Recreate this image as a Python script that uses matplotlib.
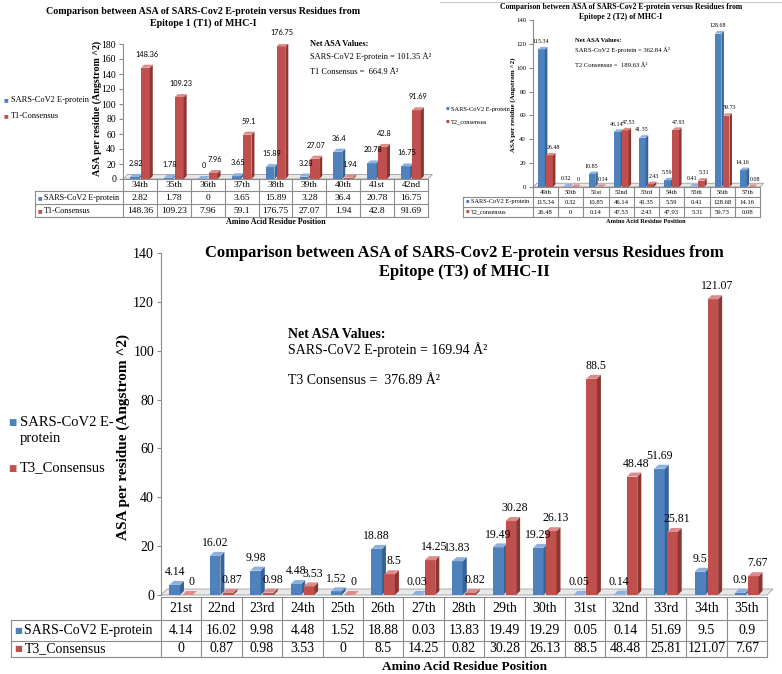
import numpy as np
import matplotlib.pyplot as plt
from matplotlib.patches import Polygon

# epitope 1 (T1) of MHC-I
t1_pos = ['34th', '35th', '36th', '37th', '38th', '39th', '40th', '41st', '42nd']
t1_sars = [2.82, 1.78, 0, 3.65, 15.89, 3.28, 36.4, 20.78, 16.75]
t1_cons = [148.36, 109.23, 7.96, 59.1, 176.75, 27.07, 1.94, 42.8, 91.69]

# epitope 2 (T2) of MHC-I
t2_pos = ['49th', '50th', '51st', '52nd', '53rd', '54th', '55th', '56th', '57th']
t2_sars = [115.34, 0.32, 10.85, 46.14, 41.35, 5.59, 0.41, 128.68, 14.16]
t2_cons = [26.48, 0, 0.14, 47.53, 2.43, 47.93, 5.31, 59.73, 0.08]

# epitope (T3) of MHC-II
t3_pos = ['21st', '22nd', '23rd', '24th', '25th', '26th', '27th', '28th',
          '29th', '30th', '31st', '32nd', '33rd', '34th', '35th']
t3_sars = [4.14, 16.02, 9.98, 4.48, 1.52, 18.88, 0.03, 13.83, 19.49, 19.29,
           0.05, 0.14, 51.69, 9.5, 0.9]
t3_cons = [0, 0.87, 0.98, 3.53, 0, 8.5, 14.25, 0.82, 30.28, 26.13, 88.5,
           48.48, 25.81, 121.07, 7.67]

W, H = 782, 674
plt.rcParams['font.family'] = ['Liberation Serif', 'DejaVu Sans']
BLUE = ('#4F81BD', '#36649A', '#8DB0DC')
RED = ('#C0504D', '#8E3533', '#DC8C8A')
LINE = '#8C8C8C'

fig = plt.figure(figsize=(W / 100, H / 100), dpi=100)


def fx(x):
    return x / W


def fy(y):
    return 1 - y / H


def bars3d(ax, vals, offset, width, dx, dy, colors, c, shift):
    front, side, top = colors
    x = np.arange(len(vals)) + offset
    ax.bar(x, vals, width=width, color=front, linewidth=0, zorder=3)
    for xi, v in zip(x, vals):
        l, r = xi - width / 2, xi + width / 2
        ax.add_patch(Polygon([(r, 0), (r + dx, dy), (r + dx, v + dy), (r, v)],
                             closed=True, fc=side, lw=0, zorder=3))
        ax.add_patch(Polygon([(l, v), (l + dx, v + dy), (r + dx, v + dy), (r, v)],
                             closed=True, fc=top, lw=0, zorder=3))
        ax.annotate(f'{v:g}', (xi + dx / 2, v + dy), xytext=(shift, c['lab_off']),
                    textcoords='offset points', ha='center', va='bottom',
                    fontsize=c['fs_lab'], family=c['lab_font'], zorder=6,
                    annotation_clip=False)


def panel(cats, sars, cons, cons_name, title, net, c):
    n = len(cats)
    px0, py0, px1, py1 = c['plot']
    ax = fig.add_axes([fx(px0), fy(py1), fx(px1) - fx(px0), fy(py0) - fy(py1)])
    ax.set_xlim(-0.5, n - 0.5)
    ax.set_ylim(0, c['ymax'])
    col_px = (px1 - px0) / n
    unit_px = (py1 - py0) / c['ymax']
    dx = c['depth'][0] / col_px
    dy = c['depth'][1] / unit_px
    ax.add_patch(Polygon([(-0.5, 0), (n - 0.5, 0), (n - 0.5 + dx * 1.5, dy * 1.5),
                          (-0.5 + dx * 1.5, dy * 1.5)], closed=True,
                         fc='#E8E8E8', ec='#A0A0A0', lw=0.6, zorder=1, clip_on=False))
    bars3d(ax, sars, -0.16, 0.26, dx, dy, BLUE, c, -c['lab_shift'])
    bars3d(ax, cons, 0.16, 0.26, dx, dy, RED, c, c['lab_shift'])
    ax.set_yticks(range(0, c['ymax'] + 1, 20))
    ax.set_xticks([])
    ax.tick_params(axis='y', labelsize=c['fs_tick'], length=3, color=LINE, pad=2)
    for s in ['top', 'right', 'bottom']:
        ax.spines[s].set_visible(False)
    ax.spines['left'].set_color(LINE)
    ax.patch.set_alpha(0)

    # data table under the bars
    ty = c['rows']
    tx0 = c['table_left']
    tax = fig.add_axes([fx(tx0), fy(ty[-1]), fx(px1) - fx(tx0), fy(ty[0]) - fy(ty[-1])])
    lab = (px0 - tx0) / col_px
    tax.set_xlim(-0.5 - lab, n - 0.5)
    tax.set_ylim(ty[-1], ty[0])
    tax.axis('off')
    lw = 0.8
    tax.plot([-0.5, n - 0.5], [ty[0], ty[0]], color=LINE, lw=lw, clip_on=False)
    for yy in ty[1:]:
        tax.plot([-0.5 - lab, n - 0.5], [yy, yy], color=LINE, lw=lw, clip_on=False)
    tax.plot([-0.5 - lab] * 2, [ty[1], ty[3]], color=LINE, lw=lw, clip_on=False)
    for k in range(n + 1):
        tax.plot([k - 0.5] * 2, [ty[0], ty[3]], color=LINE, lw=lw, clip_on=False)
    mids = [(ty[i] + ty[i + 1]) / 2 for i in range(3)]
    for i, cat in enumerate(cats):
        tax.text(i, mids[0], cat, ha='center', va='center', fontsize=c['fs_tab'])
        tax.text(i, mids[1], f'{sars[i]:g}', ha='center', va='center', fontsize=c['fs_tab'])
        tax.text(i, mids[2], f'{cons[i]:g}', ha='center', va='center', fontsize=c['fs_tab'])
    fr = c['fs_row']
    mx = -0.5 - lab + 3 / col_px
    for ym, name, col in [(mids[1], 'SARS-CoV2 E-protein', BLUE[0]), (mids[2], cons_name, RED[0])]:
        tax.text(mx, ym, '\u25A0', color=col, ha='left', va='center',
                 fontsize=fr * 0.6, family='DejaVu Sans')
        tax.text(mx + fr * 1.05 / col_px, ym, name, ha='left', va='center', fontsize=fr)

    # titles and labels
    tx, ty1, ty2 = c['title']
    for yy, line in zip([ty1, ty2], title):
        fig.text(fx(tx), fy(yy), line, ha='center', va='center',
                 fontsize=c['fs_title'], fontweight='bold')
    fig.text(fx(c['ylab'][0]), fy(c['ylab'][1]), 'ASA per residue (Angstrom ^2)',
             rotation=90, ha='center', va='center', fontsize=c['fs_ylab'], fontweight='bold')
    fig.text(fx(c['xlab'][0]), fy(c['xlab'][1]), 'Amino Acid Residue Position',
             ha='center', va='center', fontsize=c['fs_xlab'], fontweight='bold')
    lx, ly = c['legend']
    for yy, name, col in zip(ly, c['leg_names'], [BLUE[0], RED[0]]):
        fig.text(fx(lx), fy(yy), '\u25A0', color=col, ha='left', va='center',
                 fontsize=c['fs_leg'] * 0.6, family='DejaVu Sans')
        for k, part in enumerate(name.split('\n')):
            fig.text(fx(lx + c['fs_leg'] * 1.1), fy(yy + k * c['fs_leg'] * 1.55), part,
                     ha='left', va='center', fontsize=c['fs_leg'])
    nx, ny = c['net']
    fig.text(fx(nx), fy(ny[0]), 'Net ASA Values:', ha='left', va='center',
             fontsize=c['fs_net'], fontweight='bold')
    fig.text(fx(nx), fy(ny[1]), f'SARS-CoV2 E-protein = {net[0]} Å²', ha='left',
             va='center', fontsize=c['fs_net'])
    fig.text(fx(nx), fy(ny[2]), f'{net[2]} Consensus =  {net[1]} Å²', ha='left',
             va='center', fontsize=c['fs_net'])
    return ax


title_top = 'Comparison between ASA of SARS-Cov2 E-protein versus Residues from'

panel(t1_pos, t1_sars, t1_cons, 'T1-Consensus',
      [title_top, 'Epitope 1 (T1) of MHC-I'], ('101.35', '664.9', 'T1'),
      dict(plot=(123, 44, 428, 179), ymax=180, depth=(3, 3), rows=[179, 191, 204, 217],
           table_left=35, title=(203, 11, 23), ylab=(97, 108), xlab=(276, 222),
           legend=(4, [100, 116]), leg_names=['SARS-CoV2 E-protein', 'T1-Consensus'],
           net=(310, [44, 57, 72]), fs_lab=5.3, lab_font='Lato', lab_off=5, lab_shift=0,
           fs_tick=7, fs_tab=6.8, fs_row=5.9, fs_title=7.2, fs_ylab=7.2, fs_xlab=5.8,
           fs_leg=6, fs_net=6))

panel(t2_pos, t2_sars, t2_cons, 'T2_consensus',
      [title_top, 'Epitope 2 (T2) of MHC-I'], ('362.84', '189.63', 'T2'),
      dict(plot=(533, 20, 760, 187), ymax=140, depth=(2.5, 2.5), rows=[187, 197, 207, 217],
           table_left=463, title=(621, 7, 17), ylab=(513, 105), xlab=(646, 222),
           legend=(446, [109, 122]), leg_names=['SARS-CoV2 E-protein', 'T2_consensus'],
           net=(575, [41, 50, 65]), fs_lab=4.3, lab_font='Liberation Serif', lab_off=2,
           lab_shift=1.5, fs_tick=4.8, fs_tab=4.8, fs_row=4.5, fs_title=5.6, fs_ylab=5,
           fs_xlab=4.6, fs_leg=4.6, fs_net=4.8))

panel(t3_pos, t3_sars, t3_cons, 'T3_Consensus',
      [title_top, 'Epitope (T3) of MHC-II'], ('169.94', '376.89', 'T3'),
      dict(plot=(161, 253, 767, 595), ymax=140, depth=(4, 4), rows=[597, 620, 641, 657],
           table_left=11, title=(464, 253, 272), ylab=(123, 437), xlab=(464, 667),
           legend=(8, [422, 468]), leg_names=['SARS-CoV2 E-\nprotein', 'T3_Consensus'],
           net=(288, [335, 350, 380]), fs_lab=8.5, lab_font='Liberation Serif', lab_off=2,
           lab_shift=1.5, fs_tick=10, fs_tab=10, fs_row=10, fs_title=12, fs_ylab=11,
           fs_xlab=9.5, fs_leg=10.5, fs_net=10))

fig.add_artist(plt.Line2D([fx(440), 1], [fy(2), fy(2)], color='#C8C8C8', lw=0.8))

fig.savefig('out.png', dpi=100)
